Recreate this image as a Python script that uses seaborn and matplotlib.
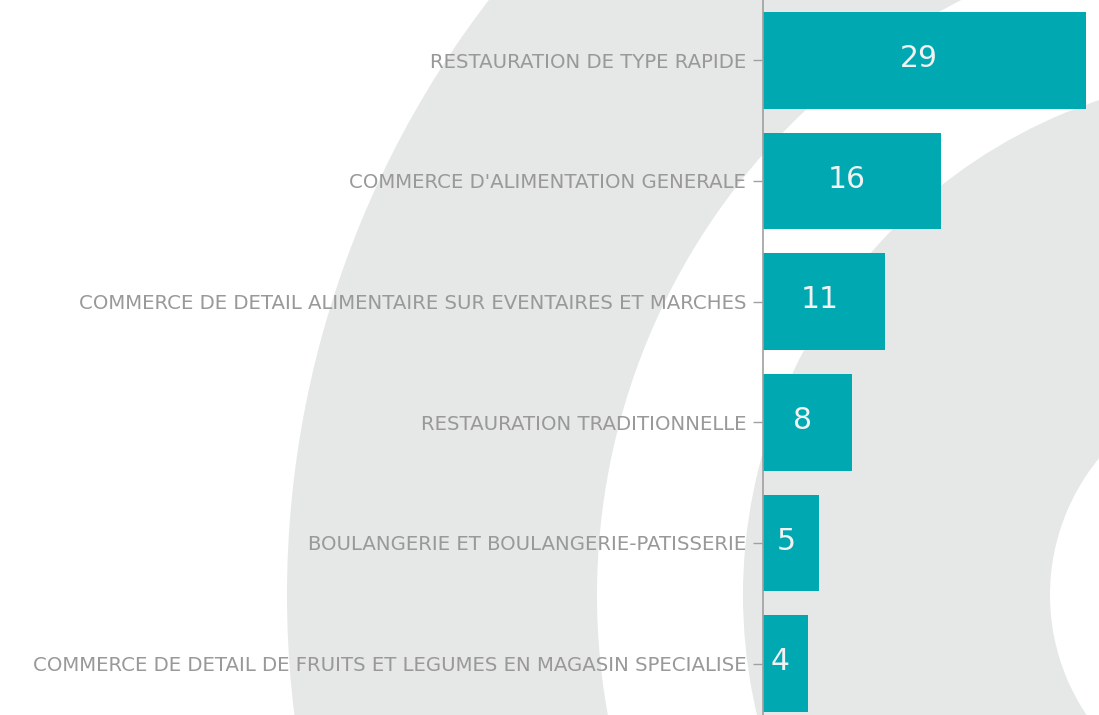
import numpy as np
import pandas as pd
import matplotlib
matplotlib.use('Agg')
import matplotlib.pyplot as plt
from matplotlib.patches import Wedge
import seaborn as sns

# Données
activites = [
    'RESTAURATION DE TYPE RAPIDE',
    "COMMERCE D'ALIMENTATION GENERALE",
    'COMMERCE DE DETAIL ALIMENTAIRE SUR EVENTAIRES ET MARCHES',
    'RESTAURATION TRADITIONNELLE',
    'BOULANGERIE ET BOULANGERIE-PATISSERIE',
    'COMMERCE DE DETAIL DE FRUITS ET LEGUMES EN MAGASIN SPECIALISE',
]
nombres = [29, 16, 11, 8, 5, 4]

COULEUR_BARRE = '#00A8B2'
COULEUR_TEXTE = '#999999'
COULEUR_FOND = '#E6E7E7'


def dessiner_fond(fig):
    # Anneaux gris en arrière-plan (logo)
    bg = fig.add_axes([0, 0, 1, 1], zorder=0)
    bg.set_xlim(0, 1099)
    bg.set_ylim(715, 0)
    bg.axis('off')
    centre = (1265, 595)
    for r_ext, r_int in [(978, 668), (522, 215)]:
        bg.add_patch(Wedge(centre, r_ext, 0, 360, width=r_ext - r_int,
                           facecolor=COULEUR_FOND, edgecolor='none'))


def dessiner_barres(fig):
    df = pd.DataFrame({'activite': activites, 'nombre': nombres})
    ax = fig.add_axes([763 / 1099, -9 / 715, 336 / 1099, 724 / 715], zorder=1)
    ax.set_facecolor('none')
    sns.barplot(data=df, x='nombre', y='activite', orient='h',
                color=COULEUR_BARRE, saturation=1, width=0.8, ax=ax)
    for c in ax.containers:
        etiquettes = ax.bar_label(c, label_type='center', color='#f2f2f2', fontsize=21.5)
        # léger décalage vers la gauche comme sur l'original
        for e in etiquettes:
            e.xyann = (-3.6, 1.2)

    ax.set_xlim(0, 30.2)
    ax.set_ylim(5.5, -0.5)
    ax.set_xlabel('')
    ax.set_ylabel('')
    ax.set_xticks([])
    for s in ['top', 'right', 'bottom']:
        ax.spines[s].set_visible(False)
    ax.spines['left'].set_color('#a0a0a0')
    ax.spines['left'].set_linewidth(1.2)
    ax.tick_params(axis='y', colors='#a0a0a0', labelcolor=COULEUR_TEXTE,
                   length=7.5, width=1, pad=4.6, labelsize=14.2)
    for t in ax.get_yticklabels():
        t.set_y(t.get_position()[1])
    return ax


def main():
    fig = plt.figure(figsize=(10.99, 7.15), dpi=100, facecolor='white')
    dessiner_fond(fig)
    dessiner_barres(fig)
    fig.savefig('out.png', dpi=100, facecolor='white')
    plt.close(fig)


if __name__ == "__main__":
    main()
